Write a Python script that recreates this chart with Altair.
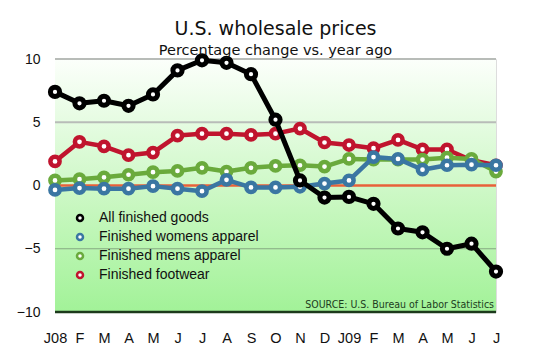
import altair as alt
import pandas as pd

months = ["J08", "F", "M", "A", "M", "J", "J", "A", "S", "O", "N", "D",
          "J09", "F", "M", "A", "M", "J", "J"]
all_goods = [7.4, 6.5, 6.7, 6.3, 7.2, 9.1, 9.9, 9.7, 8.8, 5.2, 0.4, -0.95,
             -0.9, -1.45, -3.4, -3.7, -5.0, -4.6, -6.8]
womens = [-0.35, -0.2, -0.25, -0.25, -0.05, -0.25, -0.45, 0.45, -0.15, -0.15,
          -0.1, 0.15, 0.4, 2.25, 2.1, 1.25, 1.6, 1.65, 1.6]
mens = [0.4, 0.5, 0.65, 0.85, 1.05, 1.15, 1.4, 1.1, 1.4, 1.55, 1.6, 1.5,
        2.1, 2.05, 2.05, 2.05, 2.2, 2.1, 1.1]
footwear = [1.9, 3.45, 3.1, 2.4, 2.6, 3.95, 4.1, 4.1, 4.0, 4.1, 4.5, 3.4,
            3.2, 2.95, 3.6, 2.85, 2.85, 2.0, 1.6]

series_names = ["All finished goods", "Finished womens apparel",
                "Finished mens apparel", "Finished footwear"]
series_colors = ["#000000", "#3a76a2", "#6aaa3c", "#c0142e"]
series_values = [all_goods, womens, mens, footwear]

rows = []
for name, vals in zip(series_names, series_values):
    for i, v in enumerate(vals):
        rows.append({"series": name, "idx": i, "value": v})
df = pd.DataFrame(rows)

label_js = "[" + ",".join('"%s"' % m for m in months) + "]"

x_scale = alt.Scale(domain=[0, 18], nice=False, zero=False)
y_scale = alt.Scale(domain=[-10, 10], nice=False)
color_scale = alt.Scale(domain=series_names, range=series_colors)

x_axis = alt.Axis(
    values=list(range(19)),
    labelExpr=label_js + "[datum.value]", labelOverlap=False, labelFlush=False,
    labelFont="Liberation Sans", labelFontSize=14.5, labelColor="#111",
    labelPadding=19, domain=False, ticks=False, grid=False, title=None)
y_axis = alt.Axis(
    values=[-10, -5, 0, 5, 10], labelOverlap=False, labelFlush=False,
    labelFont="Liberation Sans", labelFontSize=14, labelColor="#111",
    labelPadding=15, domain=False, ticks=False, grid=False, title=None)

legend = alt.Legend(
    orient="none", legendX=18, legendY=152, title=None,
    symbolType="circle", symbolSize=36, symbolStrokeWidth=2.5,
    symbolFillColor="white", labelFont="Liberation Sans",
    labelFontSize=14, labelColor="#111", labelOffset=12,
    rowPadding=3, values=series_names)

bg = alt.Chart(pd.DataFrame({"a": [0]})).mark_rect(
    color=alt.Gradient(
        gradient="linear",
        stops=[alt.GradientStop(color="#fcfffb", offset=0),
               alt.GradientStop(color="#c6f7be", offset=0.6),
               alt.GradientStop(color="#a2f298", offset=1)],
        x1=0, x2=0, y1=0, y2=1,
    )
).encode(
    x=alt.datum(0, scale=x_scale, axis=x_axis),
    x2=alt.datum(18),
    y=alt.datum(10, scale=y_scale, axis=y_axis),
    y2=alt.datum(-10),
)

def hrule(vals, color, width):
    return alt.Chart(pd.DataFrame({"v": vals})).mark_rule(
        color=color, strokeWidth=width).encode(
        y=alt.Y("v:Q", scale=y_scale, axis=y_axis),
        x=alt.datum(0, scale=x_scale, axis=x_axis), x2=alt.datum(18))

grid = hrule([10, 5], "#b8bcb8", 2)
grid_m5 = hrule([-5], "#86a882", 1.2)
bottom = hrule([-10], "#1c3a1c", 2.5)
zero = hrule([0], "#e8603a", 2.5)

source = alt.Chart(pd.DataFrame({"t": ["SOURCE: U.S. Bureau of Labor Statistics"]})).mark_text(
    align="right", baseline="bottom", font="DejaVu Sans Condensed", fontSize=10.5,
    color="#1d3d1d", dy=-2, dx=-2
).encode(x=alt.datum(18, scale=x_scale, axis=x_axis),
         y=alt.datum(-10, scale=y_scale, axis=y_axis), text="t:N")

layers = [bg, grid, grid_m5, zero, bottom, source]
draw_order = ["Finished footwear", "Finished mens apparel",
              "Finished womens apparel", "All finished goods"]
for name in draw_order:
    base = alt.Chart(df).transform_filter(alt.datum.series == name)
    sw = 5 if name == "All finished goods" else 4.5
    enc = dict(
        x=alt.X("idx:Q", scale=x_scale, axis=x_axis),
        y=alt.Y("value:Q", scale=y_scale, axis=y_axis),
        color=alt.Color("series:N", scale=color_scale, legend=legend),
    )
    line = base.mark_line(strokeWidth=sw, strokeJoin="round").encode(**enc)
    pts = base.mark_point(filled=False, fill="white", fillOpacity=1, opacity=1,
                          size=85, strokeWidth=sw).encode(**enc)
    layers += [line, pts]

chart = alt.layer(*layers).properties(
    width=441, height=253,
    padding={"left": 55, "top": 59, "right": 50, "bottom": 38},
    autosize=alt.AutoSizeParams(type="none"),
    title=alt.TitleParams(
        "U.S. wholesale prices",
        subtitle="Percentage change vs. year ago",
        font="DejaVu Sans", fontSize=19, fontWeight="normal", color="#111",
        subtitleFont="DejaVu Sans", subtitleFontSize=14.5, subtitleColor="#111",
        anchor="middle", offset=-12, subtitlePadding=5,
    ),
).configure_view(stroke=None).configure_axis(labelOverlap=False, labelFlush=False).configure(background="white")

chart.save("out.html", embed_options={"renderer": "svg", "actions": False})
